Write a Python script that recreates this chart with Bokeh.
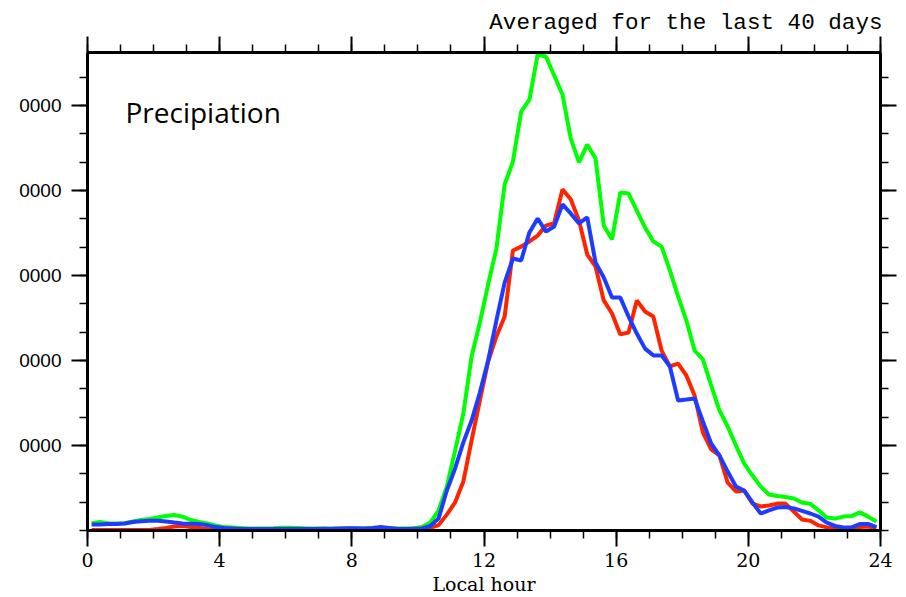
import numpy as np
from bokeh.plotting import figure
from bokeh.models import Range1d, FixedTicker, LinearAxis, Label
from bokeh.embed import file_html
from bokeh.resources import INLINE

# local hour (15-minute bins, centred)
hours = np.arange(0.125, 24, 0.25)

green = [
    0.26, 0.30, 0.26, 0.25, 0.26, 0.32, 0.37, 0.41, 0.46, 0.51,
    0.55, 0.49, 0.37, 0.30, 0.25, 0.18, 0.12, 0.11, 0.09, 0.07,
    0.07, 0.07, 0.08, 0.10, 0.10, 0.09, 0.07, 0.07, 0.07, 0.06,
    0.07, 0.07, 0.06, 0.07, 0.07, 0.08, 0.07, 0.07, 0.07, 0.08,
    0.12, 0.28, 0.71, 1.55, 2.82, 4.13, 6.14, 7.34, 8.68, 9.95,
    12.21, 13.02, 14.78, 15.21, 16.80, 16.73, 16.06, 15.39, 13.84, 12.99,
    13.62, 13.13, 10.76, 10.27, 11.93, 11.89, 11.29, 10.69, 10.20, 10.02,
    9.18, 8.26, 7.41, 6.35, 6.04, 5.12, 4.24, 3.67, 3.00, 2.36,
    1.94, 1.55, 1.27, 1.22, 1.18, 1.13, 0.99, 0.94, 0.71, 0.46,
    0.42, 0.49, 0.51, 0.64, 0.49, 0.32]

red = [
    0.02, 0.02, 0.02, 0.02, 0.02, 0.02, 0.02, 0.02, 0.05, 0.09,
    0.14, 0.16, 0.12, 0.09, 0.05, 0.02, 0.02, 0.02, 0.02, 0.02,
    0.02, 0.02, 0.02, 0.02, 0.02, 0.03, 0.02, 0.02, 0.02, 0.02,
    0.02, 0.03, 0.03, 0.02, 0.02, 0.03, 0.02, 0.02, 0.02, 0.02,
    0.04, 0.09, 0.19, 0.56, 0.99, 1.73, 3.18, 4.59, 5.96, 6.85,
    7.55, 9.88, 10.02, 10.20, 10.41, 10.76, 10.85, 12.04, 11.69, 10.94,
    9.74, 9.32, 8.12, 7.66, 6.92, 6.99, 8.12, 7.73, 7.55, 6.35,
    5.79, 5.89, 5.47, 4.76, 3.46, 2.86, 2.65, 1.69, 1.38, 1.41,
    0.95, 0.85, 0.88, 0.95, 0.95, 0.67, 0.39, 0.34, 0.18, 0.11,
    0.07, 0.05, 0.05, 0.12, 0.14, 0.07]

blue = [
    0.21, 0.21, 0.23, 0.23, 0.25, 0.30, 0.33, 0.34, 0.34, 0.32,
    0.28, 0.25, 0.24, 0.23, 0.19, 0.12, 0.09, 0.07, 0.05, 0.05,
    0.05, 0.05, 0.05, 0.05, 0.05, 0.05, 0.05, 0.05, 0.06, 0.06,
    0.07, 0.08, 0.08, 0.07, 0.09, 0.12, 0.09, 0.06, 0.05, 0.06,
    0.07, 0.16, 0.42, 1.41, 2.19, 3.11, 3.88, 4.87, 6.00, 7.41,
    8.75, 9.60, 9.53, 10.52, 11.01, 10.55, 10.73, 11.51, 11.19, 10.84,
    11.05, 9.46, 8.93, 8.22, 8.22, 7.55, 6.95, 6.42, 6.18, 6.18,
    5.79, 4.59, 4.62, 4.66, 3.85, 3.07, 2.65, 2.08, 1.55, 1.41,
    0.99, 0.60, 0.71, 0.81, 0.83, 0.78, 0.69, 0.60, 0.49, 0.28,
    0.16, 0.11, 0.11, 0.23, 0.23, 0.12]

x_ticks = [0, 4, 8, 12, 16, 20, 24]
x_minor = list(range(0, 25))
y_ticks = [3, 6, 9, 12, 15]
y_minor = list(range(0, 17))
y_tick_labels = ["0000", "0000", "0000", "0000", "0000"]

title_text = "Averaged for the last 40 days"
inner_text = "Precipiation"
x_label = "Local hour"

p = figure(width=906, height=597, output_backend="svg", toolbar_location=None,
           x_range=Range1d(0, 24), y_range=Range1d(0, 16.87),
           min_border_left=87, min_border_right=26, min_border_top=52,
           min_border_bottom=67)
p.xgrid.visible = False
p.ygrid.visible = False
p.outline_line_color = None
p.background_fill_color = "white"
p.border_fill_color = "white"

p.title.text = title_text
p.title.align = "right"
p.title.text_font = "Liberation Mono"
p.title.text_font_size = "22.6px"
p.title.text_font_style = "normal"
p.title.text_color = "black"
p.title.standoff = 1
p.title.offset = -2

p.line(hours, green, line_color="#00FF00", line_width=4)
p.line(hours, red, line_color="#FF2400", line_width=4)
p.line(hours, blue, line_color="#1E3CFF", line_width=4)


def style(ax, ticks, minor):
    ax.ticker = FixedTicker(ticks=ticks, minor_ticks=minor)
    ax.axis_line_width = 3
    ax.axis_line_color = "black"
    ax.major_tick_line_width = 2
    ax.minor_tick_line_width = 1.5
    ax.major_tick_line_color = "black"
    ax.minor_tick_line_color = "black"
    ax.major_tick_in = 0
    ax.major_tick_out = 16
    ax.minor_tick_in = 0
    ax.minor_tick_out = 8
    ax.major_label_text_color = "black"


xb = p.xaxis[0]
style(xb, x_ticks, x_minor)
xb.major_label_text_font = "DejaVu Serif"
xb.major_label_text_font_size = "19px"
xb.major_label_text_line_height = 1.0
xb.major_label_standoff = 6
xb.axis_label = x_label
xb.axis_label_text_font = "DejaVu Serif"
xb.axis_label_text_font_size = "19px"
xb.axis_label_text_line_height = 1.0
xb.axis_label_text_font_style = "normal"
xb.axis_label_text_color = "black"
xb.axis_label_standoff = 3

yl = p.yaxis[0]
style(yl, y_ticks, y_minor)
yl.major_label_overrides = {t: lab for t, lab in zip(y_ticks, y_tick_labels)}
yl.major_label_text_font = "Liberation Sans"
yl.major_label_text_font_size = "19px"
yl.major_label_standoff = 10

xt = LinearAxis()
style(xt, x_ticks, x_minor)
xt.major_label_overrides = {t: "" for t in x_ticks}
xt.major_label_standoff = 0
xt.major_label_text_font_size = "1px"
p.add_layout(xt, "above")

yr = LinearAxis()
style(yr, y_ticks, y_minor)
yr.major_label_overrides = {t: "" for t in y_ticks}
yr.major_label_standoff = 0
yr.major_label_text_font_size = "1px"
p.add_layout(yr, "right")

p.add_layout(Label(x=1.15, y=14.78, text=inner_text, text_font="Open Sans",
                   text_font_size="28px", text_color="black",
                   text_baseline="alphabetic", text_align="left"))

open("out.html", "w").write(file_html(p, INLINE))
